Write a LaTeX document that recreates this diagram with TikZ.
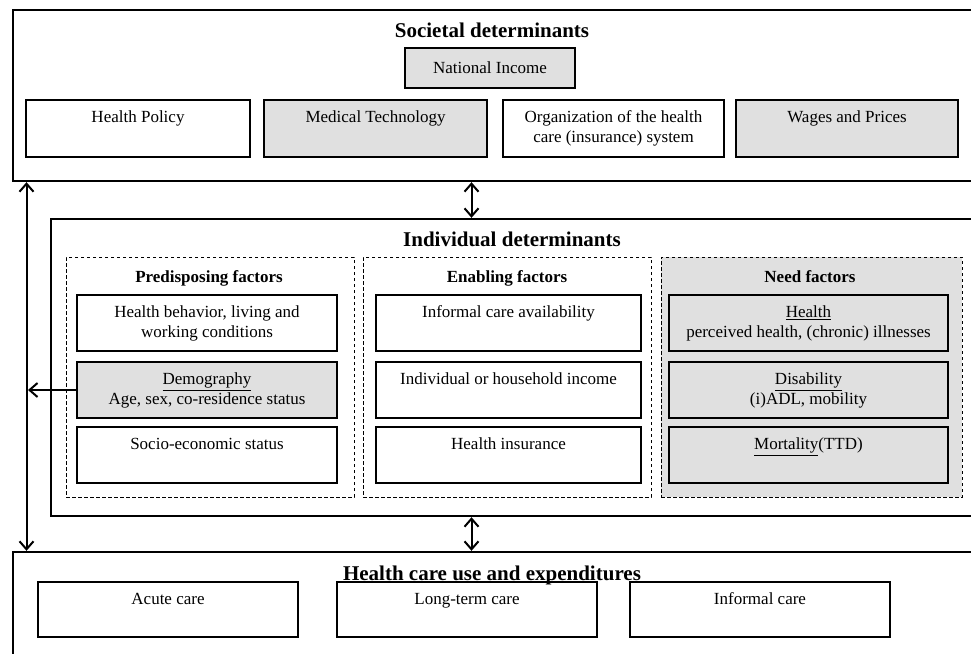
\documentclass[tikz,border=0pt]{standalone}
\usepackage{fontspec}
\setmainfont{Liberation Serif}
\usetikzlibrary{arrows.meta,fit}
\definecolor{boxgray}{RGB}{224,224,224}
\begin{document}
\begin{tikzpicture}[x=1pt,y=-1pt,
  bigbox/.style={draw, line width=2.4pt, inner sep=0pt},
  fbox/.style={draw, line width=1.2pt, inner sep=0pt},
  dbox/.style={draw, line width=0.9pt, dash pattern=on 3.5pt off 2.5pt, inner sep=0pt},
  shade/.style={fill=boxgray},
  body/.style={font=\fontsize{17}{19.5}\selectfont, align=center, inner sep=0pt},
  head/.style={font=\fontsize{21}{24}\selectfont\bfseries, inner sep=0pt, anchor=base},
  subhead/.style={font=\fontsize{17}{19.5}\selectfont\bfseries, inner sep=0pt, anchor=base},
  boxtext/.style={body, anchor=north, yshift=-9.4pt},
  conn/.style={line width=2pt, {Straight Barb[length=8pt,width=14pt]}-{Straight Barb[length=8pt,width=14pt]}},
  conn1/.style={line width=2pt, -{Straight Barb[length=8pt,width=14pt]}},
]
\clip (0,0) rectangle (971,653);
\fill[white] (0,0) rectangle (971,653);

% ---------- Societal determinants ----------
\node[bigbox, fit={(13,10) (1000,181)}] (soc) {};
\node[head] (soct) at (492,37) {Societal determinants};
\node[fbox, shade, fit={(405,48) (575,88)}] (ni) {};
\node[body] (nit) at (ni.center) {National Income};

\node[fbox, fit={(26,100) (250,157)}] (hp) {};
\node[fbox, shade, fit={(264,100) (487,157)}] (mt) {};
\node[fbox, fit={(503,100) (724,157)}] (org) {};
\node[fbox, shade, fit={(736,100) (958,157)}] (wp) {};
\node[boxtext] (hpt) at (hp.north) {\strut Health Policy};
\node[boxtext] (mtt) at (mt.north) {\strut Medical Technology};
\node[boxtext] (orgt) at (org.north) {\strut Organization of the health\\\strut care (insurance) system};
\node[boxtext] (wpt) at (wp.north) {\strut Wages and Prices};

% ---------- Individual determinants ----------
\node[bigbox, fit={(51,219) (1000,516)}] (ind) {};
\node[head] (indt) at (512,246) {Individual determinants};

\node[dbox, fit={(66,257) (354,497)}] (pre) {};
\node[dbox, fit={(363,257) (651,497)}] (ena) {};
\node[dbox, shade, fit={(661,257) (962,497)}] (need) {};
\node[subhead] (pret) at (209,282) {Predisposing factors};
\node[subhead] (enat) at (507,282) {Enabling factors};
\node[subhead] (needt) at (810,282) {Need factors};

% predisposing
\node[fbox, fit={(77,295) (337,351)}] (hb) {};
\node[fbox, shade, fit={(77,362) (337,418)}] (dem) {};
\node[fbox, fit={(77,427) (337,483)}] (ses) {};
\node[boxtext] (hbt) at (hb.north) {\strut Health behavior, living and\\\strut working conditions};
\node[boxtext] (demt) at (dem.north) {\strut\underline{Demography}\\\strut Age, sex, co-residence status};
\node[boxtext] (sest) at (ses.north) {\strut Socio-economic status};

% enabling
\node[fbox, fit={(376,295) (641,351)}] (ica) {};
\node[fbox, fit={(376,362) (641,418)}] (inc) {};
\node[fbox, fit={(376,427) (641,483)}] (hi) {};
\node[boxtext] (icat) at (ica.north) {\strut Informal care availability};
\node[boxtext] (inct) at (inc.north) {\strut Individual or household income};
\node[boxtext] (hit) at (hi.north) {\strut Health insurance};

% need
\node[fbox, shade, fit={(669,295) (948,351)}] (hl) {};
\node[fbox, shade, fit={(669,362) (948,418)}] (dis) {};
\node[fbox, shade, fit={(669,427) (948,483)}] (mor) {};
\node[boxtext] (hlt) at (hl.north) {\strut\underline{Health}\\\strut perceived health, (chronic) illnesses};
\node[boxtext] (dist) at (dis.north) {\strut\underline{Disability}\\\strut (i)ADL, mobility};
\node[boxtext] (mort) at (mor.north) {\strut\underline{Mortality}(TTD)};

% ---------- Health care use ----------
\node[bigbox, fit={(13,552) (1000,680)}] (hc) {};
\node[head] (hct) at (492,580) {Health care use and expenditures};
\node[fbox, fit={(38,582) (298,637)}] (ac) {};
\node[fbox, fit={(337,582) (597,637)}] (ltc) {};
\node[fbox, fit={(630,582) (890,637)}] (ic) {};
\node[boxtext] (act) at (ac.north) {\strut Acute care};
\node[boxtext] (ltct) at (ltc.north) {\strut Long-term care};
\node[boxtext] (ict) at (ic.north) {\strut Informal care};

% ---------- connectors ----------
\coordinate (lx) at (26.5,0);
\coordinate (mx) at (471.5,0);
\draw[conn] (soc.south -| lx) -- (hc.north -| lx);
\draw[conn] (soc.south -| mx) -- (ind.north -| mx);
\draw[conn] (ind.south -| mx) -- (hc.north -| mx);
\draw[conn1, shorten >=1.5pt] (dem.west) -- (dem.west -| lx);
\end{tikzpicture}
\end{document}
